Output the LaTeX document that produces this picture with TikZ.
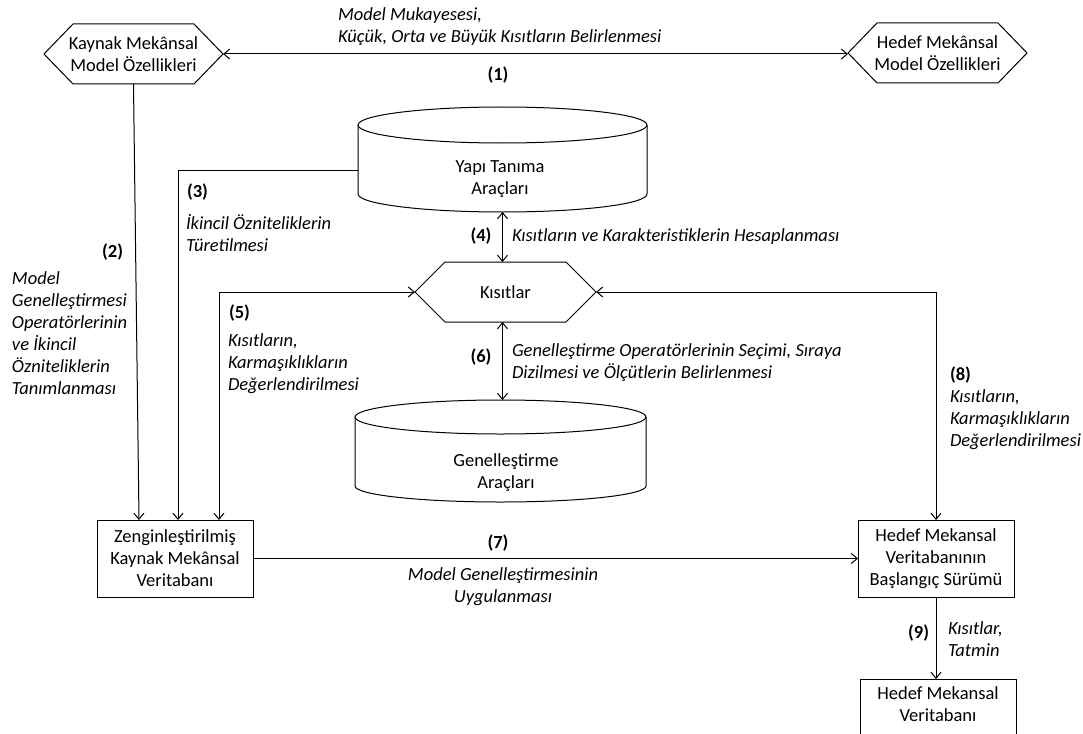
\documentclass[tikz,border=0pt]{standalone}
\usepackage{fontspec}
\setmainfont{Carlito}
\usetikzlibrary{arrows.meta}
\newcommand\diafs{\fontsize{18.5}{22}\selectfont}
\begin{document}
\begin{tikzpicture}[x=1pt,y=-1pt,
  every node/.style={inner sep=0pt, outer sep=0pt, font=\diafs},
  edge/.style={line width=1pt, draw=black},
  arr/.style={edge, -{Straight Barb[length=6pt,width=10pt]}},
  darr/.style={edge, {Straight Barb[length=6pt,width=10pt]}-{Straight Barb[length=6pt,width=10pt]}},
  lbl/.style={font=\diafs\itshape, align=left, anchor=west},
  num/.style={font=\diafs\bfseries},
  boxn/.style={draw, line width=1pt, align=center, minimum width=156pt},
  hexn/.style={align=center, minimum height=60pt},
  cyln/.style={align=center},
]
\useasboundingbox (0,0) rectangle (1083,733);
\clip (0,0) rectangle (1083,733);

% ---------- hexagons ----------
\node[hexn, minimum width=179pt] (src) at (133.5,54) {Kaynak Mekânsal\\Model Özellikleri};
\draw[edge] (src.west) -- ([xshift=29pt]src.north west) -- ([xshift=-29pt]src.north east) -- (src.east) -- ([xshift=-29pt]src.south east) -- ([xshift=29pt]src.south west) -- cycle;

\node[hexn, minimum width=179pt] (tgt) at (937.5,53) {Hedef Mekânsal\\Model Özellikleri};
\draw[edge] (tgt.west) -- ([xshift=29pt]tgt.north west) -- ([xshift=-29pt]tgt.north east) -- (tgt.east) -- ([xshift=-29pt]tgt.south east) -- ([xshift=29pt]tgt.south west) -- cycle;

\node[hexn, minimum width=181pt] (kis) at (505.5,292) {Kısıtlar};
\draw[edge] (kis.west) -- ([xshift=30pt]kis.north west) -- ([xshift=-30pt]kis.north east) -- (kis.east) -- ([xshift=-30pt]kis.south east) -- ([xshift=30pt]kis.south west) -- cycle;

% ---------- cylinders ----------
\node[minimum width=289pt, minimum height=105pt] (yapi) at (502.5,159.5) {};
\draw[edge] (358,125) -- (358,194) arc[start angle=180, end angle=360, x radius=144.5pt, y radius=18pt] -- (647,125);
\draw[edge] (502.5,125) ellipse[x radius=144.5pt, y radius=18pt];
\node[cyln] (yapiT) at (500,179.5) {Yapı Tanıma\\Araçları};

\node[minimum width=291pt, minimum height=102pt] (gen) at (500.5,451) {};
\draw[edge] (355,417) -- (355,486) arc[start angle=180, end angle=360, x radius=145.5pt, y radius=16pt] -- (646,417);
\draw[edge] (500.5,417) ellipse[x radius=145.5pt, y radius=17pt];
\node[cyln] (genT) at (506,472.5) {Genelleştirme\\Araçları};

% ---------- boxes ----------
\node[boxn, minimum height=77pt] (zeng) at (175,558.5) {Zenginleştirilmiş\\Kaynak Mekânsal\\Veritabanı};
\node[boxn, minimum height=77pt] (hed1) at (936,558.5) {Hedef Mekansal\\Veritabanının\\Başlangıç Sürümü};
\node[boxn, minimum height=66pt] (hed2) at (938,712) {Hedef Mekansal\\Veritabanı\rule[-16pt]{0pt}{0pt}};

% ---------- connectors ----------
\draw[darr] (src.east) -- (src.east -| tgt.west);
\draw[arr] (src.south) -- ([xshift=-36pt]zeng.north);
\draw[arr] ([yshift=-10.5pt]yapi.west) -| ([xshift=3pt]zeng.north);
\draw[darr] (yapi.south) -- (yapi.south |- kis.north);
\draw[darr] (kis.west) -| ([xshift=44pt]zeng.north);
\draw[darr] (yapi.south |- kis.south) -- (yapi.south |- gen.north);
\draw[darr] (kis.east) -| (hed1.north);
\draw[arr] (zeng.east) -- (zeng.east -| hed1.west);
\draw[arr] (hed1.south) -- (hed1.south |- hed2.north);

% ---------- labels ----------
\node[lbl] (l1) at (338,26.5) {Model Mukayesesi,\\Küçük, Orta ve Büyük Kısıtların Belirlenmesi};
\node[num] (n1) at (498,75) {(1)};
\node[num, anchor=east] (n2) at (123,252) {(2)};
\node[lbl] (l2) at (12,333) {Model\\Genelleştirmesi\\Operatörlerinin\\ve İkincil\\Özniteliklerin\\Tanımlanması};
\node[num, anchor=west] (n3) at (187,192) {(3)};
\node[lbl] (l3) at (186,233) {İkincil Özniteliklerin\\Türetilmesi};
\node[num] (n4) at (481,236) {(4)};
\node[lbl] (l4) at (512,237) {Kısıtların ve Karakteristiklerin Hesaplanması};
\node[num, anchor=west] (n5) at (229,313) {(5)};
\node[lbl] (l5) at (228,363.5) {Kısıtların,\\Karmaşıklıkların\\Değerlendirilmesi};
\node[num] (n6) at (481,357) {(6)};
\node[lbl] (l6) at (512,362.5) {Genelleştirme Operatörlerinin Seçimi, Sıraya\\Dizilmesi ve Ölçütlerin Belirlenmesi};
\node[num] (n7) at (498,543) {(7)};
\node[lbl, align=center, anchor=center] (l7) at (503,587) {Model Genelleştirmesinin\\Uygulanması};
\node[num, anchor=west] (n8) at (950,375) {(8)};
\node[lbl] (l8) at (950,419.5) {Kısıtların,\\Karmaşıklıkların\\Değerlendirilmesi};
\node[num, anchor=east] (n9) at (929,633) {(9)};
\node[lbl] (l9) at (948,639.5) {Kısıtlar,\\Tatmin};
\end{tikzpicture}
\end{document}
